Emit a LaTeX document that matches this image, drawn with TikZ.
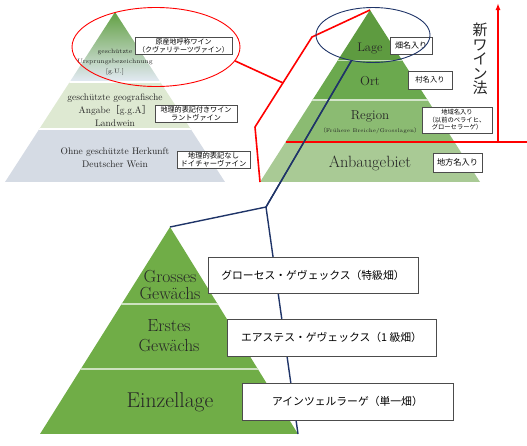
\documentclass[tikz,border=0pt]{standalone}
\usepackage{fontspec}
\newfontfamily\jp{Noto Sans CJK JP}
\usepackage{xcolor}
\usetikzlibrary{shapes,arrows}
\usetikzlibrary{shapes.geometric}
\usetikzlibrary{positioning}
\usetikzlibrary{arrows.meta}
\usetikzlibrary{calc}

\definecolor{oldgreen}{HTML}{62A043}
\definecolor{oldmix}{HTML}{AFC9A4}
\definecolor{oldblue}{HTML}{E4EAF5}
\definecolor{oldmid}{HTML}{DEE9D2}
\definecolor{oldlow}{HTML}{D5DBE4}
\definecolor{lagegreen}{HTML}{5E9B40}
\definecolor{ortgreen}{HTML}{6BA94E}
\definecolor{regiongreen}{HTML}{8BBB72}
\definecolor{anbaugreen}{HTML}{A9CA95}
\definecolor{vdpgreen}{HTML}{70AD47}
\definecolor{navyline}{HTML}{1F3468}

\begin{document}
\begin{tikzpicture}[x=1pt,y=-1pt]
\tikzset{
jpbox/.style={draw=black!70, fill=white, line width=0.6pt, inner sep=0pt, align=center},
redline/.style={draw=red, line width=1.6pt, line join=round},
blueline/.style={draw=navyline, line width=1.4pt, line join=round},
bandsep/.style={draw=white, line width=1.2pt},
ring/.style={ellipse, line width=0.9pt, inner sep=0pt},
tier/.style={align=center, text=black!85, inner sep=0pt}
}
\useasboundingbox (0,0) rectangle (527,445);

\coordinate (oldtop) at (115,12);
\coordinate[below left=170pt and 110pt of oldtop] (oldleft);
\coordinate[below right=170pt and 110pt of oldtop] (oldright);
\begin{scope}
\clip (oldtop) -- (oldleft) -- (oldright) -- cycle;
\shade[top color=oldgreen, middle color=oldmix, bottom color=oldblue] (0,12) rectangle (230,82);
\fill[oldmid] (0,82) rectangle (230,129);
\fill[oldlow] (0,129) rectangle (230,182);
\draw[bandsep] (0,82) -- (230,82) (0,129) -- (230,129);
\end{scope}

\coordinate (newtop) at (370,10);
\coordinate[below left=172pt and 110pt of newtop] (newleft);
\coordinate[below right=172pt and 110pt of newtop] (newright);
\begin{scope}
\clip (newtop) -- (newleft) -- (newright) -- cycle;
\fill[lagegreen] (250,10) rectangle (490,60);
\fill[ortgreen] (250,60) rectangle (490,100);
\fill[regiongreen] (250,100) rectangle (490,142);
\fill[anbaugreen] (250,142) rectangle (490,182);
\draw[bandsep, draw=white!60!ortgreen, line width=0.8pt] (250,60) -- (490,60);
\draw[bandsep, draw=white!70!ortgreen] (250,100) -- (490,100);
\end{scope}

\coordinate (vdptop) at (170,227);
\coordinate[below left=207pt and 130pt of vdptop] (vdpleft);
\coordinate[below right=207pt and 128pt of vdptop] (vdpright);
\begin{scope}
\clip (vdptop) -- (vdpleft) -- (vdpright) -- cycle;
\fill[vdpgreen] (30,227) rectangle (310,434);
\draw[bandsep, draw=white!65!vdpgreen] (30,304) -- (310,304) (30,369) -- (310,369);
\end{scope}

\node[tier, font=\fontsize{6.3}{10}\selectfont] (gu) at (115,62) {geschützte\\Ursprungsbezeichnung\\{[}g.U.{]}};
\node[tier, font=\fontsize{9.5}{13.3}\selectfont] (gga) at (115,110) {geschützte geografische\\Angabe{\jp［}g.g.A{\jp］}\\Landwein};
\node[tier, font=\fontsize{9.5}{13.3}\selectfont] (ohne) at (115,157.5) {Ohne geschützte Herkunft\\Deutscher Wein};

\node[tier, font=\fontsize{12.5}{14}\selectfont] (lage) at (370,49) {Lage};
\node[tier, font=\fontsize{13}{14}\selectfont] (ort) at (370,81) {Ort};
\node[tier, font=\fontsize{13}{14}\selectfont] (region) at (370,116) {Region};
\node[tier, font=\fontsize{5.3}{6}\selectfont] (frueher) at (370,131) {{\jp〔}Frühere Breiche/Grosslagen{\jp〕}};
\node[tier, font=\fontsize{16.3}{17}\selectfont] (anbau) at (370,163) {Anbaugebiet};

\node[tier, font=\fontsize{17.5}{17}\selectfont] (grosses) at (170,285.5) {Grosses\\Gewächs};
\node[tier, font=\fontsize{17.5}{20}\selectfont] (erstes) at (169,336) {Erstes\\Gewächs};
\node[tier, font=\fontsize{21.5}{22}\selectfont] (einzel) at (170,402) {Einzellage};

\coordinate (rbend) at (312,37);
\coordinate (rknee) at (255,127);
\coordinate (rjoin) at ($(rbend)!0.51!(rknee)$);
\node[ring, minimum width=168pt, minimum height=79pt] (redring) at (156,47) {};
\node[ring, minimum width=114pt, minimum height=55pt] (bluering) at (373,35) {};
\draw[redline] (newtop) -- (rbend) -- (rknee) -- (newleft);
\draw[redline] (redring.-10) -- (rjoin);

\coordinate (bfork) at (266,207);
\draw[blueline] (bluering.-130) -- (bfork) -- (vdpright);
\draw[blueline] (bfork) -- (vdptop);

\node[jpbox, minimum width=97pt, minimum height=17pt, font=\jp\fontsize{7}{8}\selectfont] (gubox) at (183.5,45.5) {原産地呼称ワイン\\（クヴァリテーツヴァイン）};
\node[jpbox, minimum width=82pt, minimum height=17pt, font=\jp\fontsize{7.1}{8}\selectfont] (ggabox) at (196,113.5) {地理的表記付きワイン\\ラントヴァイン};
\node[jpbox, minimum width=73pt, minimum height=17pt, font=\jp\fontsize{7.3}{8}\selectfont] (ohnebox) at (213.5,159.5) {地理的表記なし\\ドイチャーヴァイン};

\node[jpbox, minimum width=42pt, minimum height=17pt, font=\jp\fontsize{8}{9}\selectfont] (lagebox) at (411,45.5) {畑名入り};
\node[jpbox, minimum width=44pt, minimum height=18pt, font=\jp\fontsize{7.3}{9}\selectfont] (ortbox) at (430,80) {村名入り};
\node[jpbox, minimum width=70pt, minimum height=26pt, font=\jp\fontsize{6.3}{7.5}\selectfont] (regionbox) at (457,120) {地域名入り\\（以前のベライヒ、\\グローセラーゲ）};
\node[jpbox, minimum width=49pt, minimum height=19pt, font=\jp\fontsize{8.2}{9}\selectfont] (anbaubox) at (457.5,162.5) {地方名入り};

\node[jpbox, minimum width=210pt, minimum height=36pt, font=\jp\fontsize{10.8}{12}\selectfont] (grossesbox) at (313,275) {グローセス・ゲヴェックス（特級畑）};
\node[jpbox, minimum width=209pt, minimum height=37pt, font=\jp\fontsize{10.8}{12}\selectfont] (erstesbox) at (331.5,337.5) {エアステス・ゲヴェックス（1 級畑）};
\node[jpbox, minimum width=211pt, minimum height=37pt, font=\jp\fontsize{10.8}{12}\selectfont] (einzelbox) at (347.5,401.5) {アインツェルラーゲ（単一畑）};

\node[ring, draw=red, minimum width=168pt, minimum height=79pt] at (redring) {};
\node[ring, draw=navyline, minimum width=114pt, minimum height=55pt] at (bluering) {};

\coordinate (cutl) at (285.6,142);
\coordinate (cutr) at (527,142);
\coordinate (vfoot) at (498,142);
\coordinate (vtip) at (498,3);
\draw[redline] (cutl) -- (cutr);
\draw[redline, -{Latex[length=7pt, width=5pt]}] (vfoot) -- (vtip);
\draw[blueline] (bluering.-130) -- (bfork);

\node[tier, font=\jp\fontsize{15}{14.5}\selectfont] (shinhou) at (480,59) {新\\ワ\\イ\\ン\\法};
\end{tikzpicture}
\end{document}
